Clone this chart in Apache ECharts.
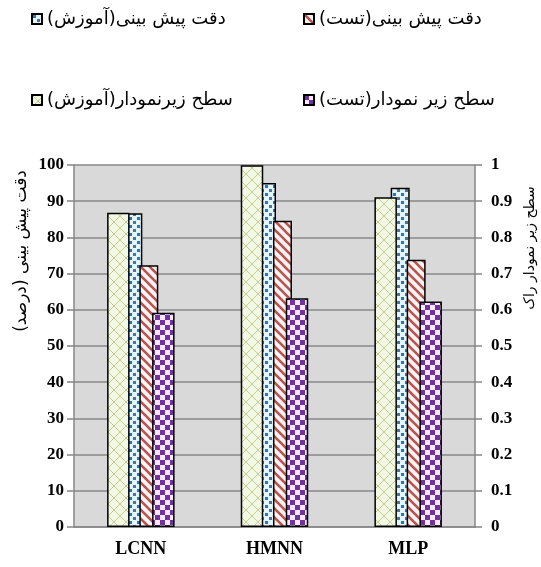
<!DOCTYPE html>
<html><head><meta charset="utf-8">
<script src="https://cdn.jsdelivr.net/npm/echarts@6/dist/echarts.min.js"></script>
<style>html,body{margin:0;padding:0;background:#fff}#c{width:541px;height:567px}</style>
</head><body><div id="c"></div>
<script>
var categories = ['LCNN', 'HMNN', 'MLP'];
var accTrainName = 'دقت پیش بینی(آموزش)';
var accTestName = 'دقت پیش بینی(تست)';
var aucTrainName = 'سطح زیرنمودار(آموزش)';
var aucTestName = 'سطح زیر نمودار(تست)';
var accTrain = [86.7, 95.0, 93.7];
var accTest = [72.3, 84.6, 73.8];
var aucTrain = [0.868, 0.999, 0.911];
var aucTest = [0.592, 0.632, 0.623];
var leftTitle = 'دقت پیش بینی (درصد)';
var rightTitle = 'سطح زیر نمودار راک';

function mk(w, h, draw) { var c = document.createElement('canvas'); c.width = w; c.height = h; draw(c.getContext('2d')); return c; }
var greenPat = mk(12, 12, function (g) {
  g.fillStyle = '#f1f8e4'; g.fillRect(0, 0, 12, 12);
  g.strokeStyle = '#c6cc92'; g.lineWidth = 1;
  g.beginPath(); g.moveTo(0, 0); g.lineTo(12, 12); g.moveTo(12, 0); g.lineTo(0, 12); g.stroke();
});
var bluePat = mk(8, 8, function (g) {
  g.fillStyle = '#e2f5fc'; g.fillRect(0, 0, 8, 8);
  g.fillStyle = '#2a76b6'; g.fillRect(1, 1, 3, 3);
  g.fillStyle = '#4f7396'; g.fillRect(5, 5, 3, 3);
});
var redPat = mk(9, 9, function (g) {
  g.fillStyle = '#fff2f2'; g.fillRect(0, 0, 9, 9);
  g.strokeStyle = '#b45552'; g.lineWidth = 2.6;
  g.beginPath();
  g.moveTo(-2, -2); g.lineTo(11, 11);
  g.moveTo(-11, -2); g.lineTo(2, 11);
  g.moveTo(7, -2); g.lineTo(20, 11);
  g.stroke();
});
var purplePat = mk(10, 10, function (g) {
  g.fillStyle = '#fce8fb'; g.fillRect(0, 0, 10, 10);
  g.fillStyle = '#7132a0'; g.fillRect(0, 0, 5, 5); g.fillRect(5, 5, 5, 5);
});
function pat(c) { return { image: c, repeat: 'repeat' }; }

var serif = 'Liberation Serif';
var fa = 'DejaVu Sans';
var gray = '#878787';

var chart = echarts.init(document.getElementById('c'), null, { renderer: 'canvas' });
function lg(name, left, top) {
  return { data: [name], left: left, top: top, itemWidth: 10, itemHeight: 10, icon: 'rect', padding: 0,
    textStyle: { fontFamily: fa, fontSize: 18, color: '#000' } };
}
chart.setOption({
  animation: false,
  legend: [
    lg(accTrainName, 31, 10),
    lg(accTestName, 303, 10),
    lg(aucTrainName, 31, 91),
    lg(aucTestName, 303, 91)
  ],
  grid: { left: 74, right: 66, top: 165, bottom: 40, show: true, backgroundColor: '#d9d9d9', borderWidth: 0 },
  xAxis: [
    { type: 'category', data: categories, axisTick: { show: false },
      axisLine: { lineStyle: { color: gray, width: 1.5 } },
      axisLabel: { fontFamily: serif, fontWeight: 'bold', fontSize: 18, color: '#000', margin: 13 } },
    { type: 'category', data: categories, show: false }
  ],
  yAxis: [
    { type: 'value', min: 0, max: 100, interval: 10, position: 'left',
      axisLine: { show: true, lineStyle: { color: gray, width: 1.5 } },
      axisTick: { show: true, length: 7, lineStyle: { color: gray, width: 1.5 } },
      splitLine: { lineStyle: { color: gray, width: 1.5 } },
      axisLabel: { fontFamily: serif, fontWeight: 'bold', fontSize: 17, color: '#000', margin: 10 } },
    { type: 'value', min: 0, max: 1, interval: 0.1, position: 'right',
      axisLine: { show: true, lineStyle: { color: gray, width: 1.5 } },
      axisTick: { show: true, length: 7, lineStyle: { color: gray, width: 1.5 } },
      splitLine: { show: false },
      axisLabel: { fontFamily: serif, fontWeight: 'bold', fontSize: 17, color: '#000', margin: 16,
        formatter: function (v) { return String(+v.toFixed(1)); } } }
  ],
  series: [
    { name: accTrainName, type: 'bar', xAxisIndex: 1, yAxisIndex: 0, data: accTrain, barWidth: 19, barGap: '-16%',
      itemStyle: { color: pat(bluePat), borderColor: '#000', borderWidth: 1.5 } },
    { name: accTestName, type: 'bar', xAxisIndex: 1, yAxisIndex: 0, data: accTest, barWidth: 19, barGap: '-16%',
      itemStyle: { color: pat(redPat), borderColor: '#000', borderWidth: 1.5 } },
    { name: aucTrainName, type: 'bar', xAxisIndex: 0, yAxisIndex: 1, data: aucTrain, barWidth: 22.5, barGap: '100%',
      itemStyle: { color: pat(greenPat), borderColor: '#000', borderWidth: 1.5 } },
    { name: aucTestName, type: 'bar', xAxisIndex: 0, yAxisIndex: 1, data: aucTest, barWidth: 22.5, barGap: '100%',
      itemStyle: { color: pat(purplePat), borderColor: '#000', borderWidth: 1.5 } }
  ],
  graphic: [
    { type: 'text', x: 22, y: 251, rotation: Math.PI / 2,
      style: { text: leftTitle, fontFamily: fa, fontSize: 17, fill: '#000', align: 'center', verticalAlign: 'middle' } },
    { type: 'text', x: 530, y: 248, rotation: Math.PI / 2,
      style: { text: rightTitle, fontFamily: fa, fontSize: 14, fill: '#000', align: 'center', verticalAlign: 'middle' } }
  ]
});
</script></body></html>
